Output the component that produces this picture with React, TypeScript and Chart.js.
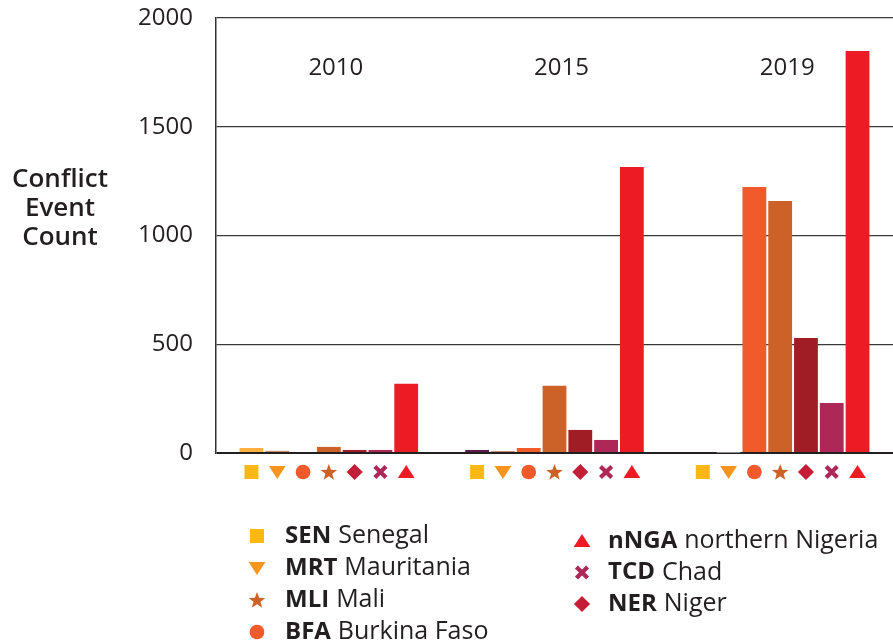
import React, { useEffect, useRef } from 'react';
import { Chart, registerables } from 'chart.js';
Chart.register(...registerables);

const years = ['2010', '2015', '2019'];
const codes = ['SEN', 'MRT', 'BFA', 'MLI', 'NER', 'TCD', 'nNGA'];
const names = ['Senegal', 'Mauritania', 'Burkina Faso', 'Mali', 'Niger', 'Chad', 'northern Nigeria'];
const senValues = [23, 14, 4];
const mrtValues = [10, 9, 2];
const bfaValues = [0, 23, 1223];
const mliValues = [28, 309, 1159];
const nerValues = [14, 106, 529];
const tcdValues = [14, 60, 230];
const ngaValues = [318, 1315, 1848];
const yTicks = [0, 500, 1000, 1500, 2000];
const axisTitle = ['Conflict', 'Event', 'Count'];

const seriesValues = [senValues, mrtValues, bfaValues, mliValues, nerValues, tcdValues, ngaValues];
const barColors: (string | string[])[] = [
  ['#FBB040', '#5C1D4E', '#231F20'],
  ['#C38B6B', '#C38B6B', '#DCDCDC'],
  '#F15A2B',
  '#CD6228',
  '#A11D25',
  '#AE2857',
  '#ED1C24',
];
const markerColors = ['#FDB913', '#F7941D', '#F15A2B', '#CD6228', '#C41E36', '#AE2857', '#ED1C24'];
const markerShapes = ['square', 'triangleDown', 'circle', 'star', 'diamond', 'cross', 'triangle'];
// legend order: left column then right column
const legendLeft = [0, 1, 3, 2];
const legendRight = [6, 5, 4];

const FONT = '"Open Sans", "Noto Sans", sans-serif';
const TEXT = '#231F20';

function drawMarker(ctx: CanvasRenderingContext2D, shape: string, x: number, y: number, r: number, color: string) {
  ctx.save();
  ctx.fillStyle = color;
  ctx.strokeStyle = color;
  ctx.beginPath();
  switch (shape) {
    case 'square':
      ctx.rect(x - r, y - r, 2 * r, 2 * r);
      ctx.fill();
      break;
    case 'triangleDown':
      ctx.moveTo(x - r * 1.2, y - r * 0.85);
      ctx.lineTo(x + r * 1.2, y - r * 0.85);
      ctx.lineTo(x, y + r * 1.0);
      ctx.closePath();
      ctx.fill();
      break;
    case 'triangle':
      ctx.moveTo(x, y - r * 1.0);
      ctx.lineTo(x + r * 1.2, y + r * 0.85);
      ctx.lineTo(x - r * 1.2, y + r * 0.85);
      ctx.closePath();
      ctx.fill();
      break;
    case 'circle':
      ctx.arc(x, y, r * 1.05, 0, Math.PI * 2);
      ctx.fill();
      break;
    case 'star': {
      const outer = r * 1.25;
      const inner = r * 0.52;
      for (let i = 0; i < 10; i++) {
        const rad = i % 2 === 0 ? outer : inner;
        const a = -Math.PI / 2 + (i * Math.PI) / 5;
        const px = x + rad * Math.cos(a);
        const py = y + rad * Math.sin(a) + r * 0.1;
        if (i === 0) ctx.moveTo(px, py);
        else ctx.lineTo(px, py);
      }
      ctx.closePath();
      ctx.fill();
      break;
    }
    case 'diamond':
      ctx.moveTo(x, y - r * 1.15);
      ctx.lineTo(x + r * 1.15, y);
      ctx.lineTo(x, y + r * 1.15);
      ctx.lineTo(x - r * 1.15, y);
      ctx.closePath();
      ctx.fill();
      break;
    case 'cross':
      ctx.lineWidth = r * 0.6;
      ctx.lineCap = 'butt';
      ctx.moveTo(x - r * 0.8, y - r * 0.8);
      ctx.lineTo(x + r * 0.8, y + r * 0.8);
      ctx.moveTo(x + r * 0.8, y - r * 0.8);
      ctx.lineTo(x - r * 0.8, y + r * 0.8);
      ctx.stroke();
      break;
  }
  ctx.restore();
}

const decorPlugin = {
  id: 'decor',
  afterDatasetsDraw(chart: any) {
    const ctx: CanvasRenderingContext2D = chart.ctx;
    const area = chart.chartArea;
    const xScale = chart.scales.x;
    ctx.save();
    // group labels
    ctx.fillStyle = TEXT;
    ctx.font = `400 24px ${FONT}`;
    ctx.textAlign = 'center';
    ctx.textBaseline = 'middle';
    years.forEach((yr, i) => {
      ctx.fillText(yr, xScale.getPixelForValue(i) + 7, 68);
    });
    // markers under bars
    chart.data.datasets.forEach((_ds: any, d: number) => {
      const meta = chart.getDatasetMeta(d);
      meta.data.forEach((bar: any) => {
        drawMarker(ctx, markerShapes[d], bar.x, area.bottom + 19, 7, markerColors[d]);
      });
    });
    // axis title
    ctx.fillStyle = TEXT;
    ctx.font = `600 26px ${FONT}`;
    ctx.textAlign = 'center';
    axisTitle.forEach((t, i) => ctx.fillText(t, 60, 180 + i * 29));
    // legend
    const drawItem = (idx: number, mx: number, tx: number, y: number) => {
      drawMarker(ctx, markerShapes[idx], mx, y, 7, markerColors[idx]);
      ctx.textAlign = 'left';
      ctx.textBaseline = 'middle';
      ctx.fillStyle = TEXT;
      ctx.font = `700 24px ${FONT}`;
      ctx.fillText(codes[idx], tx, y);
      const w = ctx.measureText(codes[idx]).width;
      ctx.font = `400 25px ${FONT}`;
      ctx.fillText(names[idx], tx + w + 7, y);
    };
    legendLeft.forEach((idx, i) => drawItem(idx, 257, 285, 536 + i * 32));
    legendRight.forEach((idx, i) => drawItem(idx, 582, 608, 541 + i * 31.5));
    ctx.restore();
  },
};

export default function App() {
  const ref = useRef<HTMLCanvasElement | null>(null);
  useEffect(() => {
    if (!ref.current) return;
    const chart = new Chart(ref.current, {
      type: 'bar',
      data: {
        labels: years,
        datasets: seriesValues.map((vals, i) => ({
          label: codes[i],
          data: vals,
          backgroundColor: barColors[i] as any,
          borderWidth: 0,
          barPercentage: 0.923,
          categoryPercentage: 0.8,
        })),
      },
      options: {
        animation: false,
        responsive: false,
        devicePixelRatio: 1,
        layout: { padding: { left: 0, right: 0, top: 18, bottom: 189 } },
        plugins: { legend: { display: false }, tooltip: { enabled: false } },
        scales: {
          x: { display: false },
          y: {
            min: 0,
            max: 2000,
            afterBuildTicks: (s: any) => {
              s.ticks = yTicks.map((v) => ({ value: v }));
            },
            afterFit: (s: any) => {
              s.width = 216;
            },
            border: { display: true, color: '#333333', width: 1.5 },
            grid: {
              drawTicks: true,
              tickLength: 23,
              tickColor: 'rgba(0,0,0,0)',
              color: (c: any) => (c.tick && c.tick.value === 0 ? '#231F20' : '#3a3a3a'),
              lineWidth: (c: any) => (c.tick && c.tick.value === 0 ? 2 : 1.2),
            },
            ticks: {
              padding: 0,
              color: TEXT,
              font: { family: FONT, size: 24 },
              callback: (v: any) => String(v),
            },
          },
        },
      },
      plugins: [decorPlugin],
    });
    return () => chart.destroy();
  }, []);
  return (
    <div style={{ position: 'absolute', left: 0, top: 0, width: 893, height: 642, background: '#fff' }}>
      <canvas ref={ref} width={893} height={642} style={{ display: 'block', width: 893, height: 642 }} />
    </div>
  );
}
